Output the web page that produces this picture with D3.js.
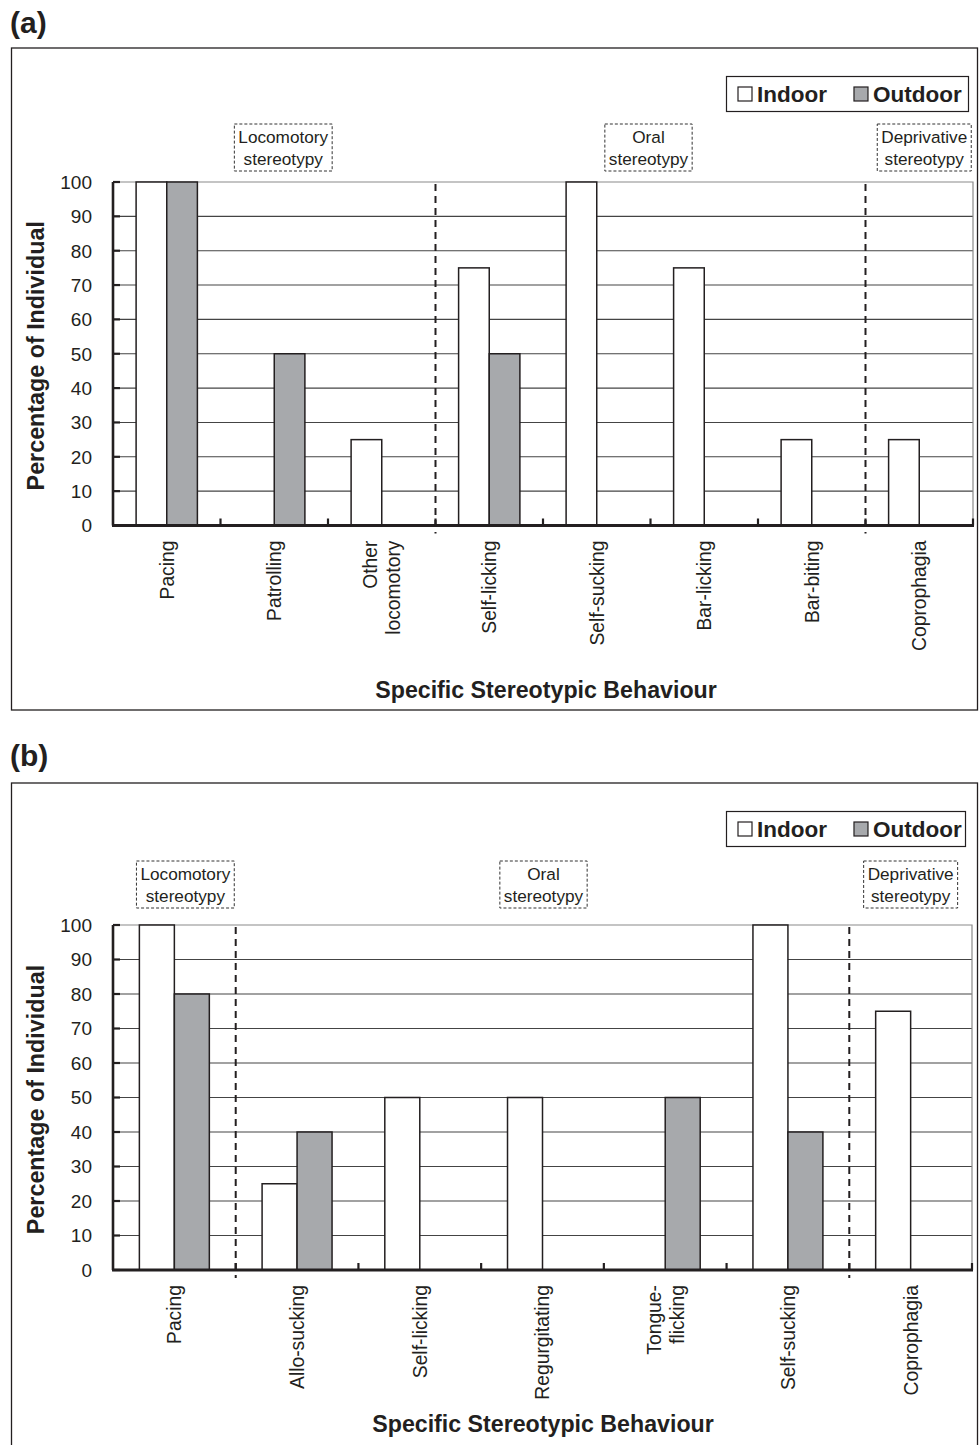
<!DOCTYPE html>
<html>
<head>
<meta charset="utf-8">
<script src="https://cdn.jsdelivr.net/npm/d3@7/dist/d3.min.js"></script>
<style>
  html, body { margin: 0; padding: 0; background: #fff; }
  svg { display: block; font-family: "Liberation Sans", Arial, Helvetica, sans-serif; }
</style>
</head>
<body>
<svg id="fig" width="979" height="1445"></svg>
<script>
// Panel (a)
const categoriesA = ["Pacing", "Patrolling", "Other\nlocomotory", "Self-licking", "Self-sucking", "Bar-licking", "Bar-biting", "Coprophagia"];
const indoorA  = [100, 0, 25, 75, 100, 75, 25, 25];
const outdoorA = [100, 50, 0, 50, 0, 0, 0, 0];
const groupsA = [
  { label: "Locomotory\nstereotypy", first: 0, last: 2 },
  { label: "Oral\nstereotypy", first: 3, last: 6 },
  { label: "Deprivative\nstereotypy", first: 7, last: 7 }
];

// Panel (b)
const categoriesB = ["Pacing", "Allo-sucking", "Self-licking", "Regurgitating", "Tongue-\nflicking", "Self-sucking", "Coprophagia"];
const indoorB  = [100, 25, 50, 50, 0, 100, 75];
const outdoorB = [80, 40, 0, 0, 50, 40, 0];
const groupsB = [
  { label: "Locomotory\nstereotypy", first: 0, last: 0 },
  { label: "Oral\nstereotypy", first: 1, last: 5 },
  { label: "Deprivative\nstereotypy", first: 6, last: 6 }
];

const seriesNames = ["Indoor", "Outdoor"];
const yTicks = [0, 10, 20, 30, 40, 50, 60, 70, 80, 90, 100];

const INK = "#231f20";
const fills = { Indoor: "#ffffff", Outdoor: "#a7a9ac" };

const svg = d3.select("#fig");

function drawPanel(p) {
  const g = svg.append("g");

  // panel letter and frame
  g.append("text").attr("x", 10).attr("y", p.letterY)
    .attr("font-size", 30).attr("font-weight", "bold").attr("fill", INK)
    .text(p.letter);
  g.append("rect").attr("x", 11.5).attr("y", p.frameTop).attr("width", 966)
    .attr("height", p.frameH).attr("fill", "none").attr("stroke", INK).attr("stroke-width", 1.3);

  const x = d3.scaleBand().domain(d3.range(p.cats.length)).range([p.x0, p.x1]).padding(0);
  const xs = d3.scaleBand().domain(seriesNames).range([0, x.bandwidth()])
    .paddingInner(0).paddingOuter(0.754);
  const y = d3.scaleLinear().domain([0, 100]).range([p.yBottom, p.yTop]);

  // gridlines
  g.append("g").selectAll("line").data(yTicks.filter(t => t > 0 && t < 100)).join("line")
    .attr("x1", p.x0).attr("x2", p.x1)
    .attr("y1", d => y(d)).attr("y2", d => y(d))
    .attr("stroke", "#444").attr("stroke-width", 1.1);
  // plot area border (top, right)
  g.append("path")
    .attr("d", `M${p.x0},${y(100)}H${p.x1}V${y(0)}`)
    .attr("fill", "none").attr("stroke", "#8a8a8a").attr("stroke-width", 1.2);

  // bars
  const rows = [];
  p.cats.forEach((c, i) => {
    rows.push({ i, s: "Indoor", v: p.indoor[i] });
    rows.push({ i, s: "Outdoor", v: p.outdoor[i] });
  });
  g.append("g").selectAll("rect").data(rows.filter(d => d.v > 0)).join("rect")
    .attr("x", d => x(d.i) + xs(d.s))
    .attr("width", xs.bandwidth())
    .attr("y", d => y(d.v))
    .attr("height", d => y(0) - y(d.v))
    .attr("fill", d => fills[d.s])
    .attr("stroke", INK).attr("stroke-width", 1.5);

  // group separators
  const seps = p.groups.slice(1).map(gr => x(gr.first));
  g.append("g").selectAll("line").data(seps).join("line")
    .attr("x1", d => d).attr("x2", d => d)
    .attr("y1", y(100) + 2).attr("y2", y(0) + 8)
    .attr("stroke", INK).attr("stroke-width", 2).attr("stroke-dasharray", "7,5");

  // y axis
  const yAxis = g.append("g");
  yAxis.append("line").attr("x1", p.x0).attr("x2", p.x0).attr("y1", y(100)).attr("y2", y(0))
    .attr("stroke", INK).attr("stroke-width", 2.6);
  yAxis.selectAll(".tk").data(yTicks).join("line").attr("class", "tk")
    .attr("x1", p.x0).attr("x2", p.x0 + 7).attr("y1", d => y(d)).attr("y2", d => y(d))
    .attr("stroke", INK).attr("stroke-width", 2.2);
  yAxis.selectAll("text").data(yTicks).join("text")
    .attr("x", p.x0 - 21).attr("y", d => y(d)).attr("dy", "0.36em")
    .attr("text-anchor", "end").attr("font-size", 19).attr("fill", INK)
    .text(d => d);

  // x axis
  const xAxis = g.append("g");
  xAxis.append("line").attr("x1", p.x0 - 1).attr("x2", p.x1 + 1).attr("y1", y(0)).attr("y2", y(0))
    .attr("stroke", INK).attr("stroke-width", 3);
  const bounds = d3.range(1, p.cats.length + 1).map(i => p.x0 + i * x.step());
  xAxis.selectAll(".tk").data(bounds).join("line").attr("class", "tk")
    .attr("x1", d => d).attr("x2", d => d).attr("y1", y(0)).attr("y2", y(0) - 7)
    .attr("stroke", INK).attr("stroke-width", 2.2);

  // rotated category labels
  const labels = xAxis.selectAll(".cl").data(p.cats).join("text").attr("class", "cl")
    .attr("transform", (d, i) => `translate(${x(i) + x.bandwidth() / 2},${y(0) + 15}) rotate(-90)`)
    .attr("text-anchor", "end").attr("font-size", 19.3).attr("fill", INK);
  labels.each(function (d) {
    const lines = d.split("\n");
    const t = d3.select(this);
    lines.forEach((ln, k) => {
      t.append("tspan").attr("x", 0)
        .attr("dy", k === 0 ? `${0.36 - (lines.length - 1) * 0.6}em` : "1.2em")
        .text(ln);
    });
  });

  // axis titles
  g.append("text")
    .attr("transform", `translate(44,${(y(0) + y(100)) / 2 + 2}) rotate(-90)`)
    .attr("text-anchor", "middle").attr("font-size", 23.3).attr("font-weight", "bold").attr("fill", INK)
    .text("Percentage of Individual");
  g.append("text").attr("x", p.xTitleX).attr("y", p.xTitleY)
    .attr("text-anchor", "middle").attr("font-size", 23.2).attr("font-weight", "bold").attr("fill", INK)
    .text("Specific Stereotypic Behaviour");

  // group labels in dashed boxes
  p.groups.forEach((gr, k) => {
    const cx = (x(gr.first) + x(gr.last) + x.bandwidth()) / 2 + p.groupDx[k];
    const gg = g.append("g");
    const t = gg.append("text").attr("text-anchor", "middle").attr("font-size", 17.2).attr("fill", INK);
    gr.label.split("\n").forEach((ln, j) => {
      t.append("tspan").attr("x", cx).attr("y", p.groupTop + 19 + j * 22).text(ln);
    });
    const w = d3.max(t.selectAll("tspan").nodes(), n => n.getComputedTextLength());
    gg.insert("rect", "text")
      .attr("x", cx - w / 2 - 4).attr("y", p.groupTop)
      .attr("width", w + 8).attr("height", 47)
      .attr("fill", "#fff").attr("stroke", "#333").attr("stroke-width", 1)
      .attr("stroke-dasharray", "3,2");
  });

  // legend
  const L = p.legend;
  const lg = g.append("g");
  lg.append("rect").attr("x", L.x).attr("y", L.y).attr("width", L.w).attr("height", L.h)
    .attr("fill", "#fff").attr("stroke", INK).attr("stroke-width", 1.2);
  let cursor = L.x + 11.5;
  seriesNames.forEach((s, k) => {
    lg.append("rect").attr("x", cursor).attr("y", L.y + L.h / 2 - 7).attr("width", 14).attr("height", 14)
      .attr("fill", fills[s]).attr("stroke", INK).attr("stroke-width", 1.2);
    const tx = lg.append("text").attr("x", cursor + 19).attr("y", L.y + L.h / 2).attr("dy", "0.36em")
      .attr("font-size", 22.5).attr("font-weight", "bold").attr("fill", INK).text(s);
    cursor += 19 + tx.node().getComputedTextLength() + 27;
  });
}

drawPanel({
  letter: "(a)", letterY: 33, frameTop: 48, frameH: 662,
  cats: categoriesA, indoor: indoorA, outdoor: outdoorA, groups: groupsA,
  x0: 113, x1: 973, yTop: 182, yBottom: 525.5,
  xTitleX: 546, xTitleY: 698,
  groupTop: 124, groupDx: [9, -2, 5],
  legend: { x: 726.5, y: 76.5, w: 242, h: 35 }
});

drawPanel({
  letter: "(b)", letterY: 766, frameTop: 783, frameH: 700,
  cats: categoriesB, indoor: indoorB, outdoor: outdoorB, groups: groupsB,
  x0: 113, x1: 972, yTop: 925, yBottom: 1270,
  xTitleX: 543, xTitleY: 1432,
  groupTop: 861, groupDx: [11, 1, 0],
  legend: { x: 726.5, y: 811.5, w: 239, h: 35 }
});
</script>
</body>
</html>
